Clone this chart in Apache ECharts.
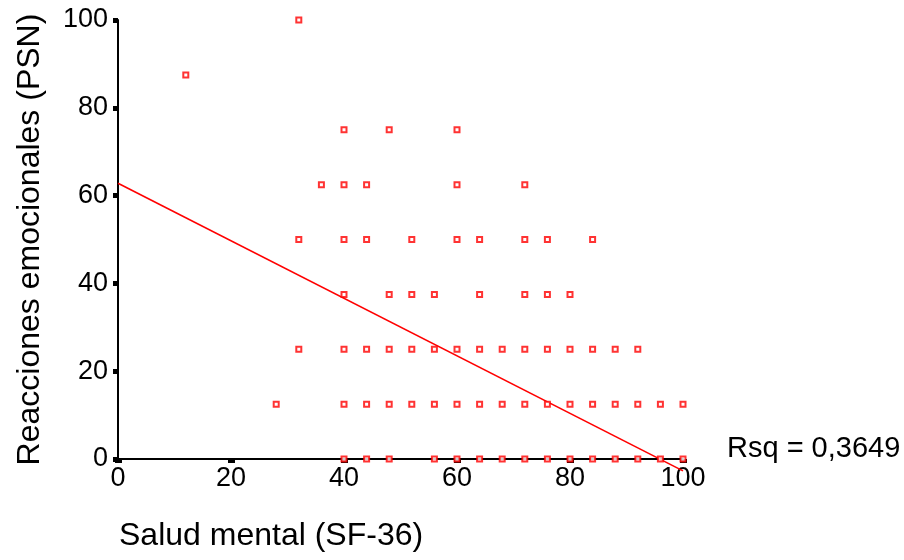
<!DOCTYPE html>
<html>
<head>
<meta charset="utf-8">
<script src="https://cdn.jsdelivr.net/npm/echarts@6/dist/echarts.min.js"></script>
<style>
  html, body { margin: 0; padding: 0; background: #fff; }
  #chart { width: 904px; height: 560px; }
</style>
</head>
<body>
<div id="chart"></div>
<script>
// valores por fila (PSN) -> valores de SF-36
const psnLevels = [100, 87.5, 75, 62.5, 50, 37.5, 25, 12.5, 0];
const sfByLevel = [
  [32],
  [12],
  [40, 48, 60],
  [36, 40, 44, 60, 72],
  [32, 40, 44, 52, 60, 64, 72, 76, 84],
  [40, 48, 52, 56, 64, 72, 76, 80],
  [32, 40, 44, 48, 52, 56, 60, 64, 68, 72, 76, 80, 84, 88, 92],
  [28, 40, 44, 48, 52, 56, 60, 64, 68, 72, 76, 80, 84, 88, 92, 96, 100],
  [40, 44, 48, 56, 60, 64, 68, 72, 76, 80, 84, 88, 92, 96, 100],
];
// recta de regresión
const fitX = [0, 100];
const fitY = [62.8, -2.7];
const rsqText = "Rsq = 0,3649";

const points = [];
psnLevels.forEach((lvl, i) => {
  sfByLevel[i].forEach((x) => points.push([x, lvl]));
});

const chart = echarts.init(document.getElementById("chart"));
const font = "Liberation Sans, Arial, sans-serif";

chart.setOption({
  animation: false,
  grid: { left: 118, right: 221, top: 20, bottom: 101 },
  xAxis: {
    type: "value",
    min: 0,
    max: 100,
    interval: 20,
    splitLine: { show: false },
    axisLine: { lineStyle: { color: "#000", width: 2 } },
    axisTick: { show: true, length: 4, lineStyle: { color: "#000", width: 7 } },
    axisLabel: { color: "#000", fontSize: 27, fontFamily: font, margin: 6 },
  },
  yAxis: {
    type: "value",
    min: 0,
    max: 100,
    interval: 20,
    name: "Reacciones emocionales (PSN)",
    nameLocation: "middle",
    nameGap: 72,
    nameTextStyle: { color: "#000", fontSize: 32, fontFamily: font },
    splitLine: { show: false },
    axisLine: { show: true, lineStyle: { color: "#000", width: 2 } },
    axisTick: { show: true, length: 5, lineStyle: { color: "#000", width: 5 } },
    axisLabel: { color: "#000", fontSize: 27, fontFamily: font, margin: 10 },
  },
  series: [
    {
      type: "line",
      data: fitX.map((x, i) => [x, fitY[i]]),
      showSymbol: false,
      clip: false,
      lineStyle: { color: "#ff0000", width: 1.6 },
      z: 3,
    },
    {
      type: "scatter",
      data: points,
      symbol: "rect",
      symbolSize: 5,
      itemStyle: { color: "#fff", borderColor: "#ff0000", borderWidth: 2 },
      z: 4,
    },
  ],
  graphic: [
    {
      type: "text",
      left: 119,
      top: 520,
      style: { text: "Salud mental (SF-36)", fill: "#000", fontSize: 32, fontFamily: font },
    },
    {
      type: "text",
      left: 727,
      top: 434,
      style: { text: rsqText, fill: "#000", fontSize: 29, fontFamily: font },
    },
  ],
});
</script>
</body>
</html>
